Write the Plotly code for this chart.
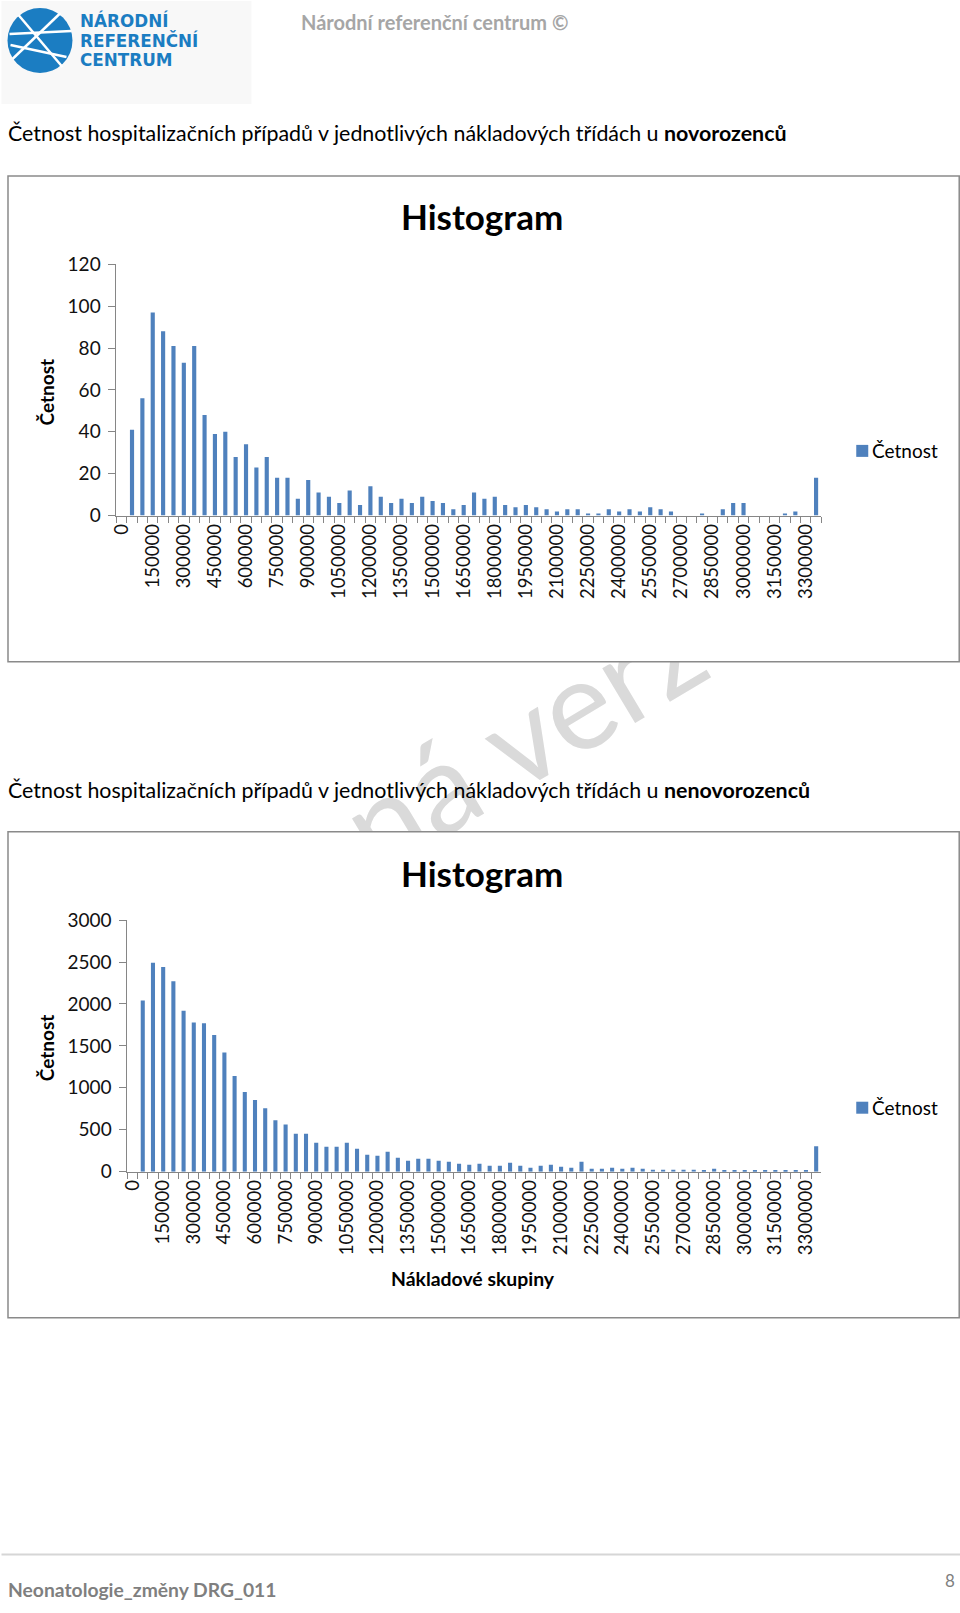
import plotly.graph_objects as go

# Figure size; positions below are given in target page pixels and mapped
# to figure pixels (the rendered page shows the figure slightly offset/scaled).
W, H = 960, 1613
SX, OX = 0.993, 5.5
SY, OY = 0.986, 11.0
FONT = "Lato"
BAR = "#4F81BD"
AX = "#868686"

# ---------------- data ----------------
categories = [str(50000 * i) for i in range(67)] + ["Další"]
shown_labels = ["0", "150000", "300000", "450000", "600000", "750000", "900000",
                "1050000", "1200000", "1350000", "1500000", "1650000", "1800000",
                "1950000", "2100000", "2250000", "2400000", "2550000", "2700000",
                "2850000", "3000000", "3150000", "3300000"]

novorozenci = [0, 41, 56, 97, 88, 81, 73, 81, 48, 39,
               40, 28, 34, 23, 28, 18, 18, 8, 17, 11,
               9, 6, 12, 5, 14, 9, 6, 8, 6, 9,
               7, 6, 3, 5, 11, 8, 9, 5, 4, 5,
               4, 3, 2, 3, 3, 1, 1, 3, 2, 3,
               2, 4, 3, 2, 0, 0, 1, 0, 3, 6,
               6, 0, 0, 0, 1, 2, 0, 18]

nenovorozenci = [0, 2040, 2490, 2440, 2270, 1920, 1780, 1770, 1630, 1420,
                 1140, 950, 855, 755, 612, 564, 453, 453, 346, 298,
                 298, 346, 274, 203, 191, 238, 167, 131, 155, 155,
                 131, 119, 95, 83, 95, 72, 72, 107, 72, 48,
                 72, 83, 60, 48, 119, 36, 36, 48, 36, 48,
                 36, 24, 24, 24, 24, 24, 12, 36, 12, 12,
                 12, 12, 12, 12, 12, 12, 12, 302]

ticktext = [c if c in shown_labels else "" for c in categories]


def fx(x):
    return (x - OX) / SX


def fy(y):
    return (y - OY) / SY


def px(x):
    return fx(x) / W


def py(y):
    return 1 - fy(y) / H


fig = go.Figure()

# watermark (clipped to the gap between the two chart frames)
fig.add_trace(go.Bar(
    orientation="h", y=[863], x=[800], base=[-95], width=[400],
    text=["Neschválená verze"], textposition="inside", insidetextanchor="middle",
    textangle=-31, constraintext="none", cliponaxis=True,
    marker=dict(color="rgba(0,0,0,0)", line=dict(width=0)),
    insidetextfont=dict(family=FONT, size=126, color="#dadada"),
    hoverinfo="skip", showlegend=False, xaxis="x3", yaxis="y3"))

fig.add_trace(go.Bar(x=categories, y=novorozenci, width=0.4, name="Četnost",
                     marker=dict(color=BAR, line=dict(width=0)),
                     showlegend=False, xaxis="x", yaxis="y"))
fig.add_trace(go.Bar(x=categories, y=nenovorozenci, width=0.4, name="Četnost",
                     marker=dict(color=BAR, line=dict(width=0)),
                     showlegend=False, xaxis="x2", yaxis="y2"))


def xax(x0, x1, anchor):
    return dict(domain=[px(x0), px(x1)], type="category", range=[-0.5, 67.5],
                tickmode="array", tickvals=categories, ticktext=ticktext,
                tickson="boundaries", ticks="outside", ticklen=6, tickcolor=AX,
                showline=True, linecolor=AX, linewidth=1, tickangle=-90,
                tickfont=dict(family=FONT, size=18.5, color="#111"),
                showgrid=False, zeroline=False, anchor=anchor, fixedrange=True)


def yax(y0px, ytop, rng, dtick, anchor):
    return dict(domain=[py(y0px), py(ytop)], range=rng, dtick=dtick,
                ticks="outside", ticklen=7, tickcolor=AX, showline=True,
                linecolor=AX, linewidth=1, showgrid=False, zeroline=False,
                tickfont=dict(family=FONT, size=19, color="#111"),
                ticklabelstandoff=4, anchor=anchor, fixedrange=True)


def rect(x0, y0, x1, y1, **kw):
    return dict(type="rect", xref="paper", yref="paper",
                x0=px(x0), x1=px(x1), y0=py(y1), y1=py(y0), **kw)


def line(x0, y0, x1, y1, color, width):
    return dict(type="line", xref="paper", yref="paper",
                x0=px(x0), y0=py(y0), x1=px(x1), y1=py(y1),
                line=dict(color=color, width=width))


shapes = [
    # logo
    rect(0, 0, 250, 103, fillcolor="#f8f8f8", line=dict(width=0), layer="below"),
    dict(type="circle", xref="paper", yref="paper", x0=px(6), x1=px(71), y0=py(72), y1=py(7),
         fillcolor="#1b7dc2", line=dict(width=0)),
    line(8, 33, 70, 30, "white", 2.5),
    line(17, 14, 61, 66, "white", 2.5),
    line(11, 58, 59, 12, "white", 2.5),
    line(9, 44, 65, 56, "white", 2.5),
    # chart frames
    rect(6.5, 175, 958, 661, line=dict(color="#8a8a8a", width=1.5)),
    rect(6.5, 831, 958, 1317, line=dict(color="#8a8a8a", width=1.5)),
    # legend keys
    rect(855, 444, 867, 456, fillcolor=BAR, line=dict(width=0)),
    rect(855, 1101, 867, 1113, fillcolor=BAR, line=dict(width=0)),
    # footer rule
    line(0, 1554, 960, 1554, "#d6d6d6", 2),
]


def ann(text, x, y, size, color="#000", xanchor="left", bold=False, angle=0,
        family=FONT, pad=1):
    return dict(text=f"<b>{text}</b>" if bold else text, x=px(x), y=py(y), xref="paper", yref="paper",
                xanchor=xanchor, yanchor="middle", showarrow=False, textangle=angle,
                borderpad=pad, font=dict(family=family, size=size, color=color))


LOGO_FONT = "DejaVu Sans"
annotations = [
    ann("NÁRODNÍ", 78, 20, 16.8, "#1b7dc2", bold=True, family=LOGO_FONT, pad=0),
    ann("REFERENČNÍ", 78, 39.5, 16.8, "#1b7dc2", bold=True, family=LOGO_FONT, pad=0),
    ann("CENTRUM", 78, 59, 16.8, "#1b7dc2", bold=True, family=LOGO_FONT, pad=0),
    ann("Národní referenční centrum ©", 299, 21, 20, "#a6a6a6", bold=True, pad=0),
    ann("Četnost hospitalizačních případů v jednotlivých nákladových třídách u <b>novorozenců</b>",
        5.5, 132.5, 21.4, pad=0),
    ann("Četnost hospitalizačních případů v jednotlivých nákladových třídách u <b>nenovorozenců</b>",
        5.5, 789, 21.4, pad=0),
    ann("Histogram", 481, 215, 35, xanchor="center", bold=True),
    ann("Histogram", 481, 872, 35, xanchor="center", bold=True),
    ann("Četnost", 45, 391, 19, xanchor="center", bold=True, angle=-90),
    ann("Četnost", 45, 1047, 19, xanchor="center", bold=True, angle=-90),
    ann("Četnost", 869, 450, 19),
    ann("Četnost", 869, 1107, 19),
    ann("Nákladové skupiny", 472, 1278, 19.4, xanchor="center", bold=True),
    ann("8", 949, 1580, 17, "#7f7f7f", xanchor="center"),
    dict(text="<b>Neonatologie_změny DRG_011</b>", x=px(5.5), y=0, xref="paper", yref="paper",
         xanchor="left", yanchor="bottom", showarrow=False, borderpad=0,
         font=dict(family=FONT, size=19.3, color="#7f7f7f")),
]

fig.update_layout(
    width=W, height=H, margin=dict(l=0, r=0, t=0, b=0),
    paper_bgcolor="white", plot_bgcolor="rgba(0,0,0,0)",
    showlegend=False, bargap=0.6,
    xaxis=xax(115, 820, "y"),
    yaxis=yax(514.7, 263.3, [0, 120], 20, "x"),
    xaxis2=xax(126, 820, "y2"),
    yaxis2=yax(1171, 919.3, [0, 3000], 500, "x2"),
    xaxis3=dict(domain=[0, 1], range=[OX, OX + SX * W], visible=False, fixedrange=True, anchor="y3"),
    yaxis3=dict(domain=[py(831), py(661)], range=[831, 661], visible=False, fixedrange=True, anchor="x3"),
    shapes=shapes, annotations=annotations,
)

fig.write_html("out.html")
